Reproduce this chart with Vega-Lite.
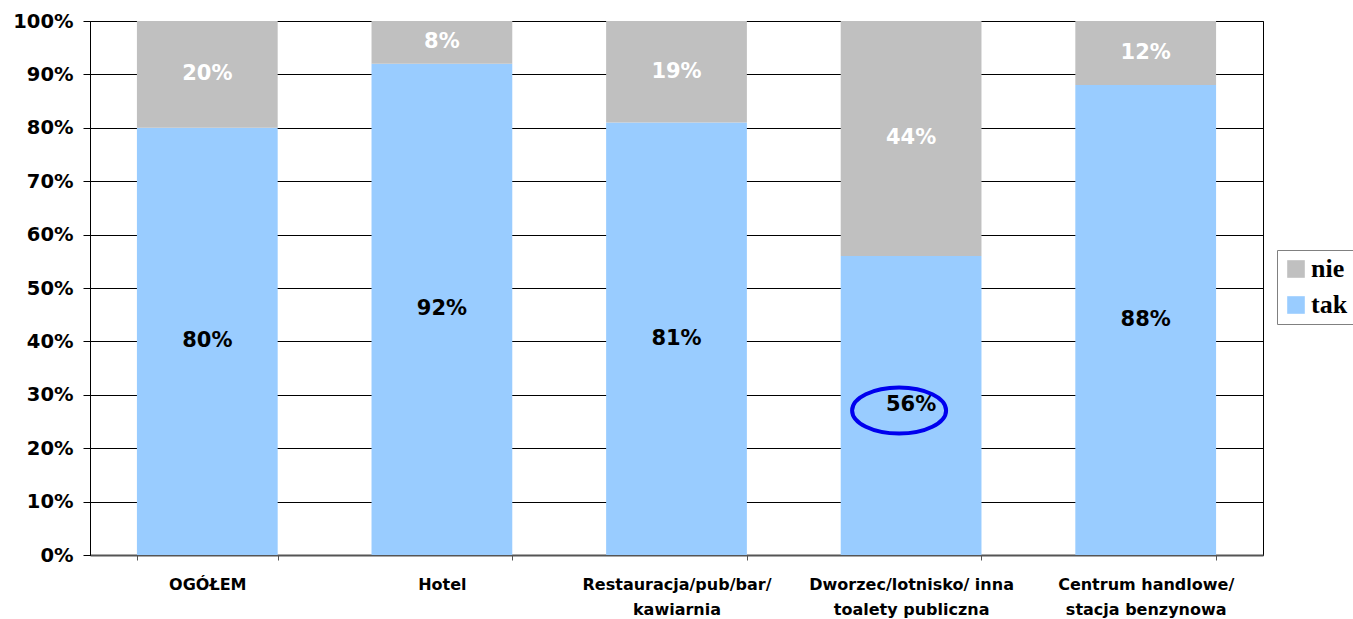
{
  "$schema": "https://vega.github.io/schema/vega-lite/v6.json",
  "autosize": {"type": "none"},
  "width": 1173,
  "height": 534,
  "padding": {"left": 90, "top": 21, "right": 90, "bottom": 64},
  "background": "white",
  "config": {
    "view": {"stroke": "#000000", "strokeWidth": 1},
    "font": "DejaVu Sans"
  },
  "data": {
    "values": [
      {"category": "OGÓŁEM", "series": "tak", "value": 0.80},
      {"category": "OGÓŁEM", "series": "nie", "value": 0.20},
      {"category": "Hotel", "series": "tak", "value": 0.92},
      {"category": "Hotel", "series": "nie", "value": 0.08},
      {"category": "Restauracja/pub/bar/ kawiarnia", "series": "tak", "value": 0.81},
      {"category": "Restauracja/pub/bar/ kawiarnia", "series": "nie", "value": 0.19},
      {"category": "Dworzec/lotnisko/ inna toalety publiczna", "series": "tak", "value": 0.56},
      {"category": "Dworzec/lotnisko/ inna toalety publiczna", "series": "nie", "value": 0.44},
      {"category": "Centrum handlowe/ stacja benzynowa", "series": "tak", "value": 0.88},
      {"category": "Centrum handlowe/ stacja benzynowa", "series": "nie", "value": 0.12}
    ]
  },
  "encoding": {
    "x": {
      "field": "category",
      "type": "nominal",
      "sort": null,
      "scale": {"paddingInner": 0.4, "paddingOuter": 0.2},
      "axis": {
        "title": null,
        "labelAngle": 0,
        "labelLimit": 0,
        "tickBand": "extent",
        "tickSize": 5,
        "tickColor": "#555555",
        "domainColor": "#555555",
        "domainWidth": 2,
        "labelFont": "DejaVu Sans",
        "labelFontWeight": "bold",
        "labelFontSize": 16,
        "labelColor": "#000000",
        "labelPadding": 16,
        "labelBaseline": "top",
        "labelLineHeight": 25,
        "labelExpr": "datum.value == 'Restauracja/pub/bar/ kawiarnia' ? ['Restauracja/pub/bar/', 'kawiarnia'] : datum.value == 'Dworzec/lotnisko/ inna toalety publiczna' ? ['Dworzec/lotnisko/ inna', 'toalety publiczna'] : datum.value == 'Centrum handlowe/ stacja benzynowa' ? ['Centrum handlowe/', 'stacja benzynowa'] : datum.value"
      }
    },
    "y": {
      "field": "value",
      "type": "quantitative",
      "stack": "zero",
      "scale": {"domain": [0, 1], "nice": false},
      "axis": {
        "title": null,
        "values": [0, 0.1, 0.2, 0.3, 0.4, 0.5, 0.6, 0.7, 0.8, 0.9, 1],
        "format": ".0%",
        "grid": true,
        "gridColor": "#000000",
        "gridOpacity": 1,
        "gridWidth": 1,
        "tickColor": "#000000",
        "tickSize": 7,
        "domainColor": "#000000",
        "labelFont": "DejaVu Sans",
        "labelFontWeight": "bold",
        "labelFontSize": 19.5,
        "labelColor": "#000000",
        "labelPadding": 10
      }
    },
    "order": {"field": "series", "sort": "descending"}
  },
  "layer": [
    {
      "mark": {"type": "bar"},
      "encoding": {
        "color": {
          "field": "series",
          "type": "nominal",
          "scale": {"domain": ["nie", "tak"], "range": ["#C0C0C0", "#99CCFF"]},
          "legend": {
            "title": null,
            "orient": "none",
            "legendX": 1187,
            "legendY": 229,
            "symbolType": "square",
            "symbolSize": 310,
            "symbolStrokeWidth": 0,
            "labelFont": "Liberation Serif",
            "labelFontWeight": "bold",
            "labelFontSize": 26,
            "labelColor": "#000000",
            "labelOffset": 2,
            "rowPadding": 10,
            "padding": 6,
            "strokeColor": "#808080",
            "fillColor": "white"
          }
        }
      }
    },
    {
      "mark": {"type": "text", "font": "DejaVu Sans", "fontWeight": "bold", "fontSize": 21, "baseline": "middle"},
      "encoding": {
        "y": {"field": "value", "type": "quantitative", "stack": "zero", "bandPosition": 0.5},
        "text": {"field": "value", "type": "quantitative", "format": ".0%"},
        "color": {"condition": {"test": "datum.series === 'nie'", "value": "#FFFFFF"}, "value": "#000000"}
      }
    },
    {
      "transform": [{"filter": "datum.series === 'tak' && datum.category === 'Dworzec/lotnisko/ inna toalety publiczna'"}],
      "mark": {
        "type": "point",
        "shape": "M -1 0 C -1 -0.2706 -0.5523 -0.49 0 -0.49 C 0.5523 -0.49 1 -0.2706 1 0 C 1 0.2706 0.5523 0.49 0 0.49 C -0.5523 0.49 -1 0.2706 -1 0 Z",
        "size": 8836,
        "filled": false,
        "stroke": "#0000EE",
        "strokeWidth": 4,
        "opacity": 1,
        "xOffset": -12,
        "yOffset": 5
      },
      "encoding": {
        "y": {"field": "value", "type": "quantitative", "stack": "zero", "bandPosition": 0.5}
      }
    }
  ]
}
